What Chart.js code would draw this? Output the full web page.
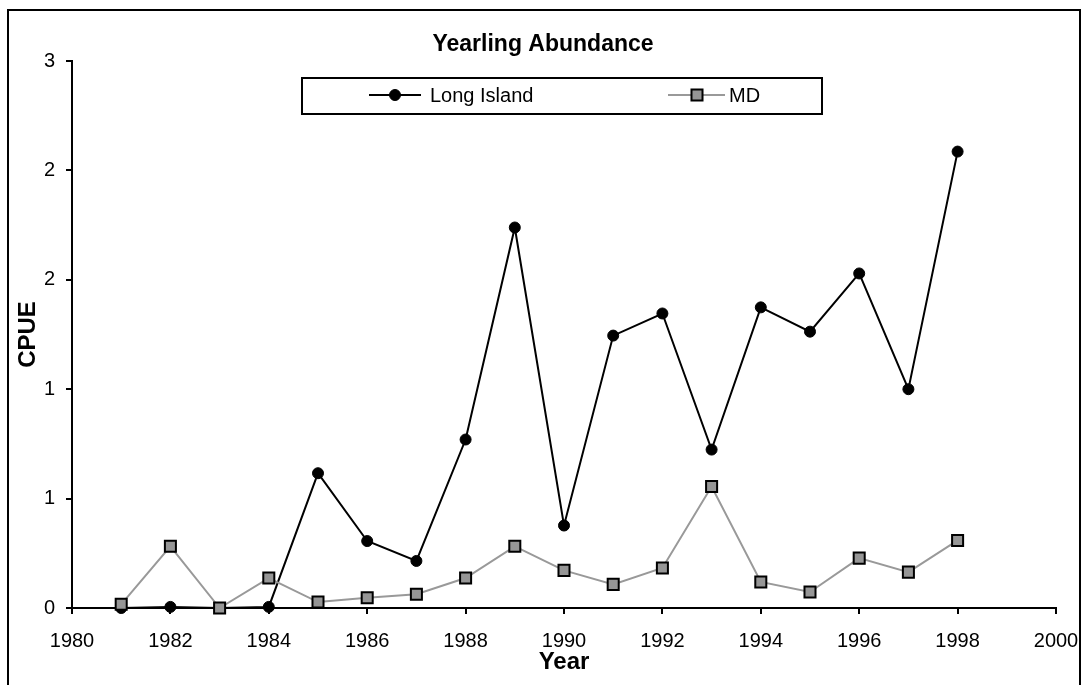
<!DOCTYPE html>
<html>
<head>
<meta charset="utf-8">
<script src="https://cdn.jsdelivr.net/npm/chart.js@4"></script>
<style>
  body { margin: 0; background: #fff; }
  canvas { display: block; }
</style>
</head>
<body>
<canvas id="chart" width="1086" height="685"></canvas>
<script>
const years = [1981, 1982, 1983, 1984, 1985, 1986, 1987, 1988, 1989, 1990, 1991, 1992, 1993, 1994, 1995, 1996, 1997, 1998]
const longIsland = [0, 0.005, 0, 0.005, 0.616, 0.306, 0.215, 0.77, 1.739, 0.377, 1.245, 1.346, 0.724, 1.374, 1.263, 1.529, 1.0, 2.086]
const md = [0.017, 0.282, 0, 0.137, 0.027, 0.047, 0.063, 0.137, 0.282, 0.172, 0.108, 0.183, 0.555, 0.119, 0.073, 0.228, 0.164, 0.309]
const seriesLabels = ['Long Island', 'MD']

const FONT = "'Liberation Sans', Arial, sans-serif"

function toPoints (values) {
  return years.map(function (year, i) {
    return { x: year, y: values[i] }
  })
}

// frame round the whole chart
const framePlugin = {
  id: 'frame',
  beforeDraw (chart) {
    const ctx = chart.ctx
    ctx.save()
    ctx.strokeStyle = '#000'
    ctx.lineWidth = 2
    ctx.strokeRect(8, 10, 1072, 700)
    ctx.restore()
  },
}

// boxed legend that sits inside the plot, like the original
const boxLegend = {
  id: 'boxLegend',
  afterDraw (chart) {
    const ctx = chart.ctx
    const y = 95
    const items = [
      { line: [369, 421], marker: 395, text: 430 },
      { line: [668, 725], marker: 697, text: 729 },
    ]
    ctx.save()
    ctx.fillStyle = '#fff'
    ctx.fillRect(302, 78, 520, 36)
    ctx.strokeStyle = '#000'
    ctx.lineWidth = 2
    ctx.strokeRect(302, 78, 520, 36)

    chart.data.datasets.forEach(function (ds, i) {
      const it = items[i]
      ctx.strokeStyle = ds.borderColor
      ctx.lineWidth = ds.borderWidth
      ctx.beginPath()
      ctx.moveTo(it.line[0], y)
      ctx.lineTo(it.line[1], y)
      ctx.stroke()

      ctx.fillStyle = ds.pointBackgroundColor
      ctx.strokeStyle = ds.pointBorderColor
      ctx.lineWidth = ds.pointBorderWidth
      ctx.beginPath()
      if (ds.pointStyle === 'rect') {
        const s = ds.pointRadius * Math.SQRT1_2
        ctx.rect(it.marker - s, y - s, 2 * s, 2 * s)
      } else {
        ctx.arc(it.marker, y, ds.pointRadius, 0, Math.PI * 2)
      }
      ctx.fill()
      ctx.stroke()

      ctx.fillStyle = '#000'
      ctx.font = '20px ' + FONT
      ctx.textBaseline = 'middle'
      ctx.textAlign = 'left'
      ctx.fillText(ds.label, it.text, y + 1)
    })
    ctx.restore()
  },
}

const config = {
  type: 'line',
  data: {
    datasets: [
      {
        label: seriesLabels[0],
        data: toPoints(longIsland),
        borderColor: '#000',
        borderWidth: 2,
        pointStyle: 'circle',
        pointRadius: 5.5,
        pointBackgroundColor: '#000',
        pointBorderColor: '#000',
        pointBorderWidth: 1,
        tension: 0,
        clip: false,
        order: 1,
      },
      {
        label: seriesLabels[1],
        data: toPoints(md),
        borderColor: '#999999',
        borderWidth: 2,
        pointStyle: 'rect',
        pointRadius: 7.8,
        pointBackgroundColor: '#969696',
        pointBorderColor: '#000',
        pointBorderWidth: 2,
        tension: 0,
        clip: false,
        order: 0,
      },
    ],
  },
  options: {
    responsive: false,
    animation: false,
    devicePixelRatio: 1,
    layout: {
      padding: { left: 0, right: 0, top: 0, bottom: 0 },
    },
    plugins: {
      title: {
        display: true,
        text: 'Yearling Abundance',
        color: '#000',
        font: { family: FONT, size: 23, weight: 'bold' },
        padding: { top: 31, bottom: 2.4 },
      },
      legend: { display: false },
      tooltip: { enabled: false },
    },
    scales: {
      x: {
        type: 'linear',
        min: 1980,
        max: 2000,
        afterFit (scale) {
          scale.height = 77
          scale.paddingLeft = 0
          scale.paddingRight = 30
        },
        ticks: {
          stepSize: 2,
          color: '#000',
          padding: 15,
          maxRotation: 0,
          font: { family: FONT, size: 20 },
          callback: function (v) { return String(v) },
        },
        grid: {
          display: true,
          drawOnChartArea: false,
          drawTicks: true,
          tickLength: 6,
          color: '#000',
          lineWidth: 2,
        },
        border: { display: true, color: '#000', width: 2 },
        title: {
          display: true,
          text: 'Year',
          color: '#000',
          font: { family: FONT, size: 24, weight: 'bold' },
          padding: { top: 0, bottom: 8.6 },
        },
      },
      y: {
        min: 0,
        max: 2.5,
        afterFit (scale) { scale.width = 72 },
        ticks: {
          stepSize: 0.5,
          color: '#000',
          padding: 11,
          font: { family: FONT, size: 20 },
          callback: function (v) { return String(Math.round(v)) },
        },
        grid: {
          display: true,
          drawOnChartArea: false,
          drawTicks: true,
          tickLength: 6,
          color: '#000',
          lineWidth: 2,
        },
        border: { display: true, color: '#000', width: 2 },
        title: {
          display: true,
          text: 'CPUE',
          color: '#000',
          font: { family: FONT, size: 24, weight: 'bold' },
          padding: { top: 13.6, bottom: 0 },
        },
      },
    },
  },
  plugins: [framePlugin, boxLegend],
}

const ctx = document.getElementById('chart').getContext('2d')
const myChart = new Chart(ctx, config)
</script>
</body>
</html>
